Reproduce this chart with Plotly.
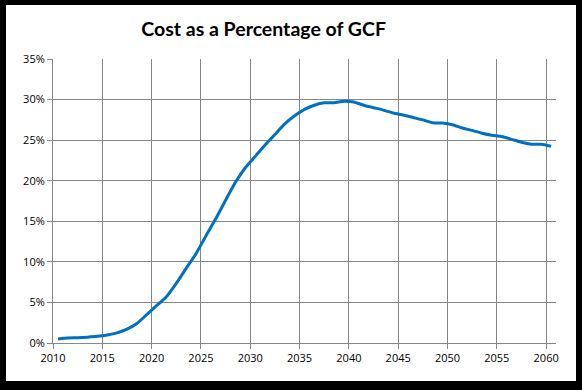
import plotly.graph_objects as go

years = list(range(2010, 2061))
cost_pct = [0.50, 0.62, 0.65, 0.72, 0.82, 0.98, 1.25, 1.70, 2.40, 3.50,
            4.60, 5.70, 7.35, 9.20, 11.0, 13.2, 15.3, 17.6, 19.8, 21.6,
            23.0, 24.4, 25.7, 27.0, 28.0, 28.8, 29.3, 29.6, 29.6, 29.8,
            29.7, 29.3, 29.0, 28.7, 28.35, 28.1, 27.8, 27.5, 27.15, 27.1,
            26.9, 26.5, 26.2, 25.85, 25.6, 25.45, 25.1, 24.75, 24.5, 24.5,
            24.25]
x_tick_labels = ["2010", "2015", "2020", "2025", "2030", "2035", "2040",
                 "2045", "2050", "2055", "2060"]
y_tick_values = [0, 5, 10, 15, 20, 25, 30, 35]
y_tick_labels = ["0%", "5%", "10%", "15%", "20%", "25%", "30%", "35%"]
title_text = "Cost as a Percentage of GCF"

W, H = 582, 390
L, R, T, B = 53, 556, 59, 343

fig = go.Figure()
fig.add_trace(go.Scatter(x=years, y=cost_pct, mode="lines",
                         line=dict(color="#0070C0", width=3, shape="spline", smoothing=0.6),
                         hoverinfo="skip"))

grid = "#878787"
fig.update_xaxes(range=[years[0] - 0.5, years[-1] + 0.5],
                 tickvals=[int(t) - 0.5 for t in x_tick_labels], ticktext=x_tick_labels,
                 showgrid=True, gridcolor=grid, gridwidth=1,
                 showline=True, linecolor=grid, linewidth=1,
                 ticks="outside", ticklen=5, tickcolor=grid,
                 tickfont=dict(family="Open Sans", size=11, color="#000"),
                 zeroline=False, fixedrange=True)
fig.update_yaxes(range=[0, 35], tickvals=y_tick_values, ticktext=y_tick_labels,
                 showgrid=True, gridcolor=grid, gridwidth=1,
                 showline=True, linecolor=grid, linewidth=1,
                 ticks="outside", ticklen=5, tickcolor=grid,
                 tickfont=dict(family="Open Sans", size=11, color="#000"),
                 zeroline=False, fixedrange=True)

def px_x(p):
    return (p - L) / (R - L)

def px_y(p):
    return (B - p) / (B - T)

# white card inside a black frame (paper background is black)
shapes = [dict(type="rect", xref="paper", yref="paper",
               x0=px_x(6), x1=px_x(576), y0=px_y(381), y1=px_y(5),
               fillcolor="white", line=dict(width=0), layer="below")]

fig.update_layout(width=W, height=H,
                  margin=dict(l=L, r=W - R, t=T, b=H - B, pad=0),
                  paper_bgcolor="black", plot_bgcolor="white",
                  showlegend=False,
                  title=dict(text="<b>" + title_text + "</b>", x=0.453, xanchor="center",
                             y=1 - 29 / H, yanchor="middle",
                             font=dict(family="Lato", size=19.5, color="#000")),
                  shapes=shapes)

fig.write_html("out.html", config={"displayModeBar": False, "staticPlot": True},
               post_script="document.body.style.margin='0';document.body.style.padding='0';document.body.style.overflow='hidden';")
